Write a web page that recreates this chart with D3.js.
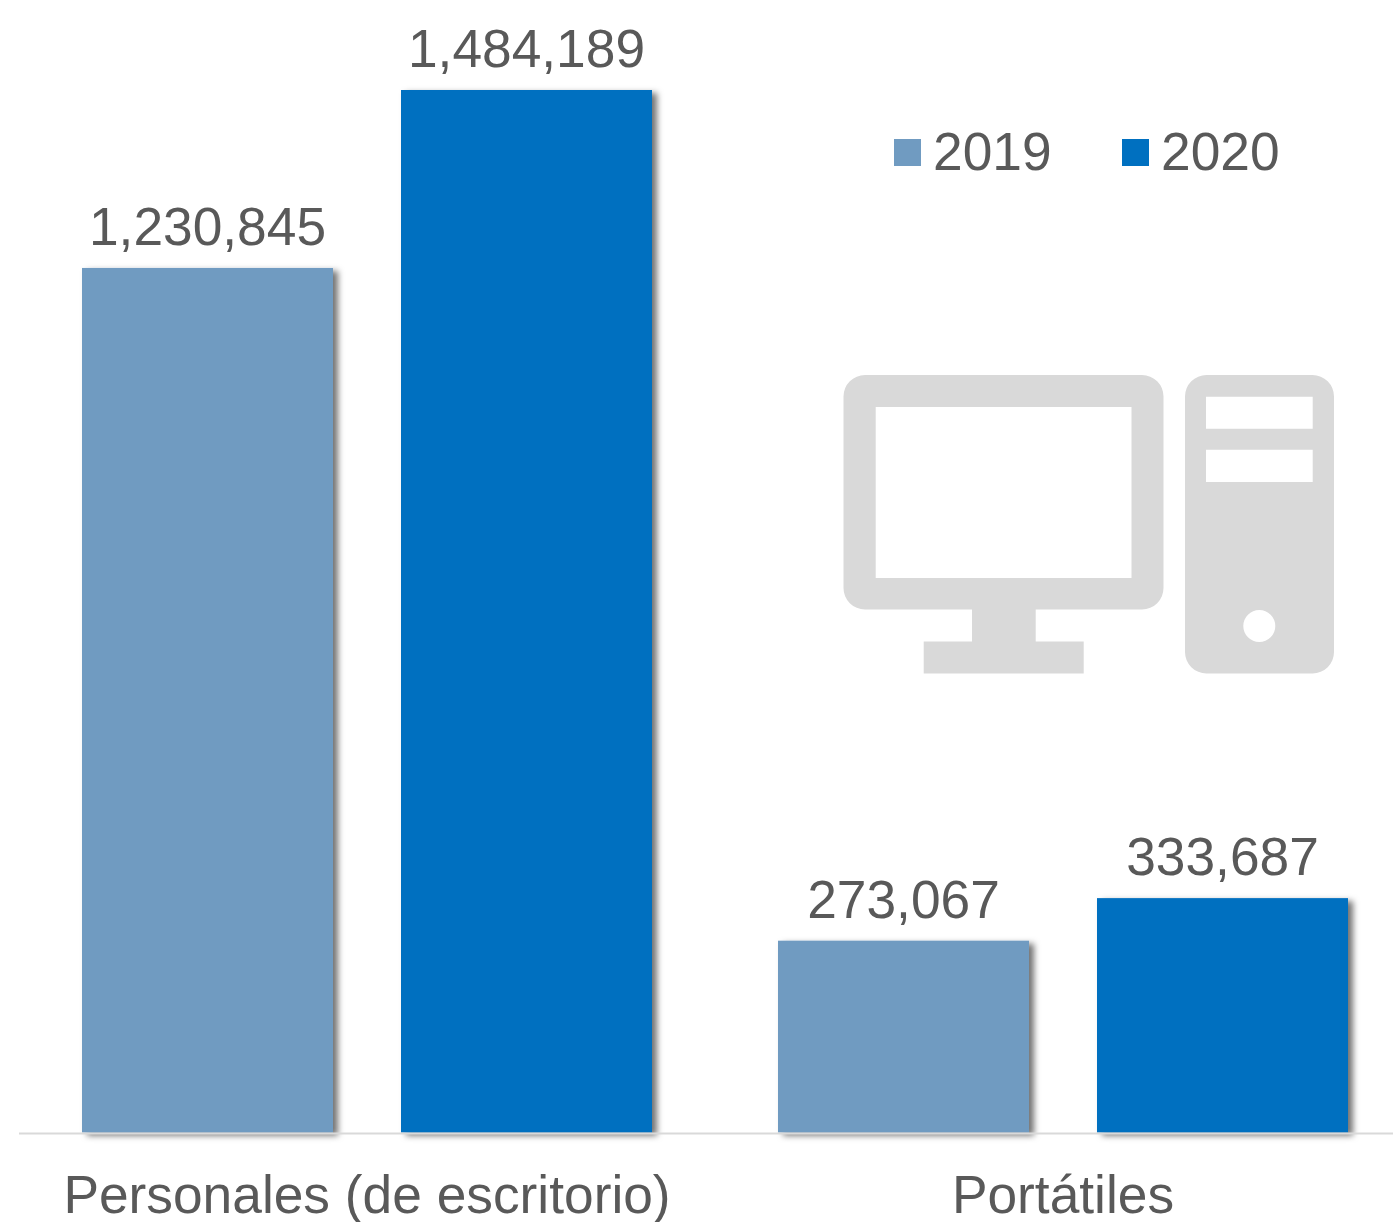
<!DOCTYPE html>
<html><head><meta charset="utf-8">
<script src="https://cdn.jsdelivr.net/npm/d3@7"></script>
<style>html,body{margin:0;padding:0;background:#fff;overflow:hidden}svg{display:block}text{font-family:"Liberation Sans",Arial,sans-serif;fill:#595959}</style>
</head><body><svg id="c" width="1393" height="1222"></svg>
<script>
const categories = ["Personales (de escritorio)", "Portátiles"];
const seriesNames = ["2019", "2020"];
const values2019 = [1230845, 273067];
const values2020 = [1484189, 333687];
const colors = ["#709bc1", "#0070c0"];

const svg = d3.select("#c");
const defs = svg.append("defs");
const f = defs.append("filter").attr("id","sh").attr("x","-10%").attr("y","-10%").attr("width","125%").attr("height","125%");
f.append("feDropShadow").attr("dx",5).attr("dy",3).attr("stdDeviation",3.2).attr("flood-color","#000").attr("flood-opacity",0.55);

const baseY = 1132.5, topY = 90;
const y = d3.scaleLinear().domain([0, d3.max(values2020)]).range([baseY, topY]);
const x0 = d3.scaleBand().domain(categories).range([19, 1411]).paddingInner(0).paddingOuter(0);
const x1 = d3.scaleBand().domain(seriesNames).range([63, x0.bandwidth() - 63]).paddingInner(68/319);
const fmt = d3.format(",");

const rows = categories.map((c,i)=>({c, vals:[values2019[i], values2020[i]]}));
const g = svg.selectAll("g.grp").data(rows).join("g").attr("class","grp").attr("transform",d=>`translate(${x0(d.c)},0)`);
const items = d=>d.vals.map((v,j)=>({v,s:seriesNames[j],j}));
g.selectAll("rect").data(items).join("rect")
  .attr("x",d=>x1(d.s)).attr("width",x1.bandwidth())
  .attr("y",d=>y(d.v)).attr("height",d=>baseY-y(d.v))
  .attr("fill",d=>colors[d.j]).attr("filter","url(#sh)");
g.selectAll("text.v").data(items).join("text").attr("class","v")
  .attr("x",d=>x1(d.s)+x1.bandwidth()/2).attr("y",d=>y(d.v)-23)
  .attr("text-anchor","middle").attr("font-size",53.3).text(d=>fmt(d.v));

svg.append("line").attr("x1",19).attr("x2",1393).attr("y1",1133.5).attr("y2",1133.5).attr("stroke","#d9d9d9").attr("stroke-width",2);

const axis = d3.axisBottom(x0).tickSize(0).tickPadding(0);
const ax = svg.append("g").attr("transform","translate(0,1133)").call(axis);
ax.select(".domain").remove();
ax.selectAll("text").attr("y",null).attr("dy",null).attr("transform","translate(0,80)").attr("font-size",53.3).attr("font-family",'"Liberation Sans",Arial,sans-serif').attr("fill","#595959");

// legend
const lg = svg.append("g");
const legendX = [894, 1122];
seriesNames.forEach((s,i)=>{
  lg.append("rect").attr("x",legendX[i]).attr("y",139).attr("width",27).attr("height",27).attr("fill",colors[i]);
  lg.append("text").attr("x",legendX[i]+39).attr("y",170).attr("font-size",53.3).text(s);
});

// computer icon
const icon = svg.append("g").attr("fill","#d9d9d9");
icon.append("path").attr("fill-rule","evenodd").attr("d",
 "M865,375H1142a21.5,21.5 0 0 1 21.5,21.5V588a21.5,21.5 0 0 1 -21.5,21.5H1035.7V641.5H1083.7V673.5H923.7V641.5H972V609.5H865a21.5,21.5 0 0 1 -21.5,-21.5V396.5a21.5,21.5 0 0 1 21.5,-21.5Z"+
 "M875.7,407V578H1131.5V407Z");
icon.append("path").attr("fill-rule","evenodd").attr("d",
 "M1206.5,375H1312.5a21.5,21.5 0 0 1 21.5,21.5V652a21.5,21.5 0 0 1 -21.5,21.5H1206.5a21.5,21.5 0 0 1 -21.5,-21.5V396.5a21.5,21.5 0 0 1 21.5,-21.5Z"+
 "M1206,396.7V428.7H1312.7V396.7Z"+
 "M1206,449.7V482H1312.7V449.7Z"+
 "M1275.3,626a16,16 0 1 0 -32,0a16,16 0 1 0 32,0Z");
</script></body></html>
